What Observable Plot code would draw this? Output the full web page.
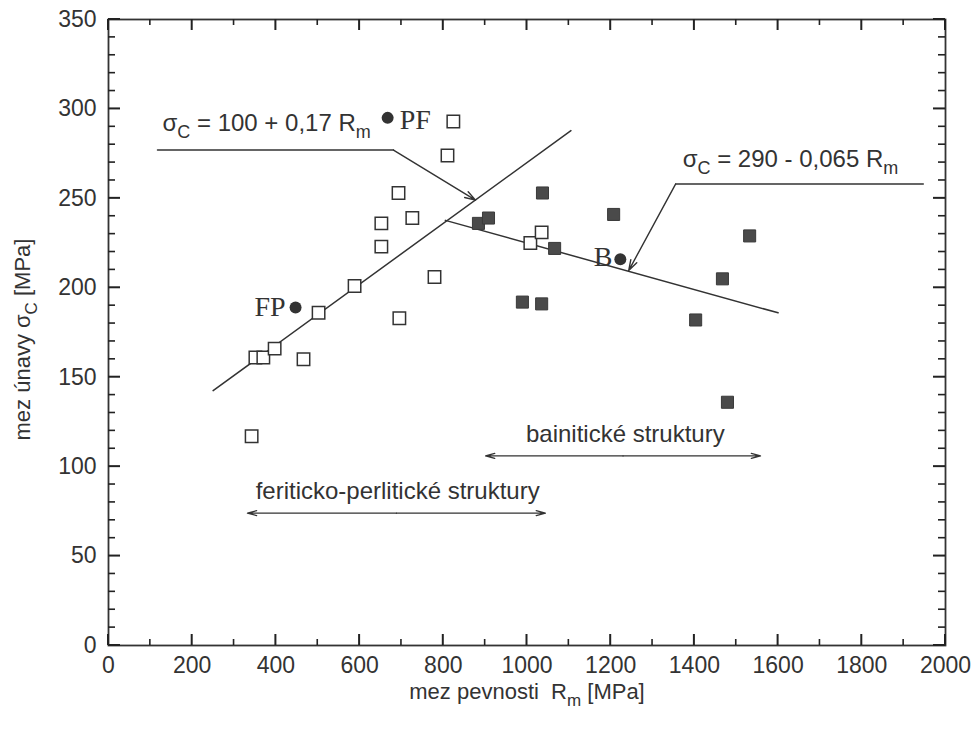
<!DOCTYPE html>
<html><head><meta charset="utf-8">
<script src="https://cdn.jsdelivr.net/npm/d3@7"></script>
<script src="https://cdn.jsdelivr.net/npm/@observablehq/plot@0.6"></script>
<style>body{margin:0;background:#fff}</style>
</head><body><div id="chart"></div>
<script>
// ---- data ----
const xMajor = [0, 200, 400, 600, 800, 1000, 1200, 1400, 1600, 1800, 2000];
const xMinor = [100, 300, 500, 700, 900, 1100, 1300, 1500, 1700, 1900];
const yMajor = [0, 50, 100, 150, 200, 250, 300, 350];
const yMinor = [10,20,30,40,60,70,80,90,110,120,130,140,160,170,180,190,210,220,230,240,260,270,280,290,310,320,330,340];

// feriticko-perlitické (open squares)
const openX = [342, 351, 370, 397, 466, 502, 588, 652, 652, 693, 726, 695, 779, 810, 824, 1008, 1035];
const openY = [117, 161, 161, 166, 160, 186, 201, 223, 236, 253, 239, 183, 206, 274, 293, 225, 231];
// bainitické (filled squares)
const fillX = [884, 908, 1037, 1066, 1207, 989, 1035, 1532, 1467, 1403, 1479];
const fillY = [236, 239, 253, 222, 241, 192, 191, 229, 205, 182, 136];
// labelled circles
const circleLabels = ["FP", "PF", "B"];
const circleX = [447, 667, 1223];
const circleY = [189, 295, 216];

// regression lines
const fpLineX = [250, 1105];
const fpLineY = [142.5, 287.9];
const bLineX = [805, 1600];
const bLineY = [237.7, 186.0];

// equation annotations
const eqTexts = ["σ_{C} = 100 + 0,17 R_{m}", "σ_{C} = 290 - 0,065 R_{m}"];
const eqX = [129, 1372];
const eqY = [292, 272];
const leader1X = [117, 681, 877];
const leader1Y = [277, 277, 249];
const leader2X = [1947, 1355, 1243];
const leader2Y = [258, 258, 209.6];

// range annotations
const rangeTexts = ["bainitické struktury", "feriticko-perlitické struktury"];
const rangeX1 = [901, 332];
const rangeX2 = [1558, 1044];
const rangeY = [106, 74];
const rangeTextX = [1235, 691];
const rangeTextY = [118, 86];

const xTitle = "mez pevnosti  R_{m} [MPa]";
const yTitle = "mez únavy σ_{C} [MPa]";

// ---- chart ----
const ink = "#333";
const sans = "'Liberation Sans', Arial, sans-serif";
const serif = "'Liberation Serif', 'Times New Roman', serif";
const mid = rangeX1.map((a, i) => (a + rangeX2[i]) / 2);
const W = 976, H = 731, ML = 108, MR = 31, MT = 19, MB = 86;
const FW = W - ML - MR, FH = H - MT - MB;
const XD = [0, 2000], YD = [0, 350];
const pxX = (XD[1] - XD[0]) / FW;   // data units per pixel, x
const pxY = (YD[1] - YD[0]) / FH;   // data units per pixel, y

// inward ticks drawn as thin rectangles (pixel sizes converted to data units)
function ticksX(ticks, size, w) {
  const L = size * pxY, h = w / 2 * pxX;
  return [
    Plot.rect(ticks, {x1: d => d - h, x2: d => d + h, y1: () => YD[0], y2: () => YD[0] + L, fill: "#222"}),
    Plot.rect(ticks, {x1: d => d - h, x2: d => d + h, y1: () => YD[1] - L, y2: () => YD[1], fill: "#222"})
  ];
}
function ticksY(ticks, size, w) {
  const L = size * pxX, h = w / 2 * pxY;
  return [
    Plot.rect(ticks, {y1: d => d - h, y2: d => d + h, x1: () => XD[0], x2: () => XD[0] + L, fill: "#222"}),
    Plot.rect(ticks, {y1: d => d - h, y2: d => d + h, x1: () => XD[1] - L, x2: () => XD[1], fill: "#222"})
  ];
}

const chart = Plot.plot({
  width: W, height: H,
  marginLeft: ML, marginRight: MR, marginTop: MT, marginBottom: MB,
  x: {domain: XD},
  y: {domain: YD},
  marks: [
    Plot.axisX(xMajor, {anchor: "bottom", tickSize: 0, tickPadding: 11, fontSize: 23, fontFamily: sans, fill: ink, label: null, tickFormat: d => String(d)}),
    Plot.axisY(yMajor, {anchor: "left", tickSize: 0, tickPadding: 12, fontSize: 23, fontFamily: sans, fill: ink, label: null, tickFormat: d => String(d)}),
    // regression lines
    Plot.line(fpLineX, {x: fpLineX, y: fpLineY, stroke: ink, strokeWidth: 1.5}),
    Plot.line(bLineX, {x: bLineX, y: bLineY, stroke: ink, strokeWidth: 1.5}),
    // leaders
    Plot.line(leader1X.slice(0, 2), {x: leader1X.slice(0, 2), y: leader1Y.slice(0, 2), stroke: ink, strokeWidth: 1.4}),
    Plot.arrow([0], {x1: [leader1X[1]], y1: [leader1Y[1]], x2: [leader1X[2]], y2: [leader1Y[2]], stroke: ink, strokeWidth: 1.4, headLength: 12, headAngle: 35}),
    Plot.line(leader2X.slice(0, 2), {x: leader2X.slice(0, 2), y: leader2Y.slice(0, 2), stroke: ink, strokeWidth: 1.4}),
    Plot.arrow([0], {x1: [leader2X[1]], y1: [leader2Y[1]], x2: [leader2X[2]], y2: [leader2Y[2]], stroke: ink, strokeWidth: 1.4, headLength: 12, headAngle: 35}),
    // double arrows
    Plot.arrow(rangeTexts, {x1: mid, y1: rangeY, x2: rangeX1, y2: rangeY, stroke: ink, strokeWidth: 1.3, headLength: 11, headAngle: 30}),
    Plot.arrow(rangeTexts, {x1: mid, y1: rangeY, x2: rangeX2, y2: rangeY, stroke: ink, strokeWidth: 1.3, headLength: 11, headAngle: 30}),
    Plot.text(rangeTexts, {x: rangeTextX, y: rangeTextY, text: d => d, fontSize: 24, fontFamily: sans, fill: ink}),
    // equations
    Plot.text(eqTexts, {x: eqX, y: eqY, text: d => d, textAnchor: "start", fontSize: 24, fontFamily: sans, fill: ink}),
    // points
    Plot.dot(openX, {x: openX, y: openY, symbol: "square", r: 7, fill: "#fff", stroke: ink, strokeWidth: 1.5}),
    Plot.dot(fillX, {x: fillX, y: fillY, symbol: "square", r: 6.8, fill: "#4a4a4a", stroke: "#3a3a3a", strokeWidth: 1}),
    Plot.dot(circleLabels, {x: circleX, y: circleY, r: 6, fill: ink}),
    Plot.text(circleLabels, {x: circleX, y: circleY, text: d => d, filter: (d, i) => i === 0, textAnchor: "end", dx: -10, fontSize: 28, fontFamily: serif, fill: ink}),
    Plot.text(circleLabels, {x: circleX, y: circleY, text: d => d, filter: (d, i) => i === 1, textAnchor: "start", dx: 12, dy: 2, fontSize: 28, fontFamily: serif, fill: ink}),
    Plot.text(circleLabels, {x: circleX, y: circleY, text: d => d, filter: (d, i) => i === 2, textAnchor: "end", dx: -8, dy: -2, fontSize: 28, fontFamily: serif, fill: ink}),
    // axis titles
    Plot.text([xTitle], {frameAnchor: "bottom", textAnchor: "middle", dy: 53, text: d => d, fontSize: 22, fontFamily: sans, fill: ink}),
    Plot.text([yTitle], {frameAnchor: "left", textAnchor: "middle", dx: -86, dy: 7, rotate: -90, text: d => d, fontSize: 22, fontFamily: sans, fill: ink}),
    // frame and inward ticks last
    Plot.frame({stroke: ink, strokeWidth: 1.8}),
    ...ticksX(xMajor, 11, 2),
    ...ticksX(xMinor, 6, 1.6),
    ...ticksY(yMajor, 12, 2),
    ...ticksY(yMinor, 7, 1.6)
  ]
});

// subscripts: turn "_{x}" into lowered tspans
chart.querySelectorAll("text").forEach(t => {
  const s = t.textContent;
  if (!s.includes("_{")) return;
  const fs = parseFloat(t.getAttribute("font-size") || (t.parentNode && t.parentNode.getAttribute && t.parentNode.getAttribute("font-size"))) || 22;
  const shift = Math.round(fs * 0.3);
  t.textContent = "";
  let down = false;
  for (const p of s.split(/(_\{[^}]*\})/)) {
    if (!p) continue;
    const ts = document.createElementNS("http://www.w3.org/2000/svg", "tspan");
    if (p.startsWith("_{")) {
      ts.textContent = p.slice(2, -1);
      ts.setAttribute("dy", shift);
      ts.setAttribute("font-size", Math.round(fs * 0.75));
      down = true;
    } else {
      ts.textContent = p;
      if (down) { ts.setAttribute("dy", -shift); down = false; }
    }
    t.appendChild(ts);
  }
});

document.getElementById("chart").appendChild(chart);
</script>
</body></html>
